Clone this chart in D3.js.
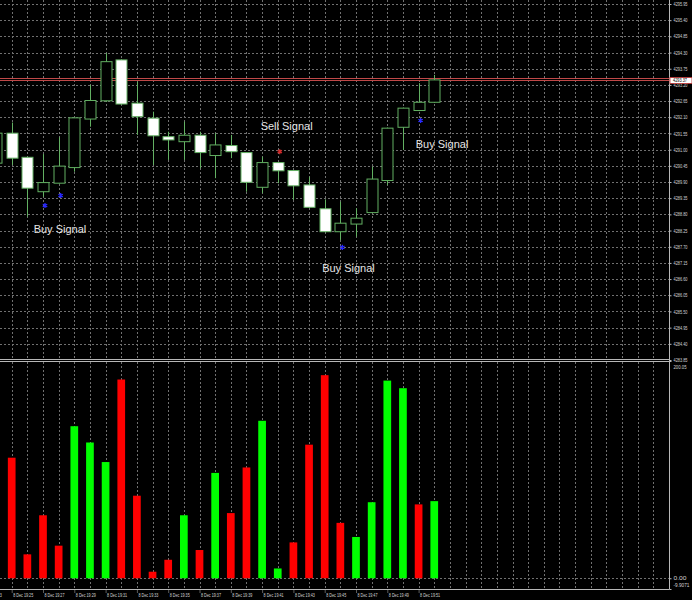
<!DOCTYPE html>
<html><head><meta charset="utf-8">
<script src="https://cdn.jsdelivr.net/npm/d3@7"></script>
<style>body{margin:0;background:#000}svg{display:block}</style>
</head><body>
<svg id="c" width="692" height="600"></svg>
<script>
// ---------------- DATA ----------------
const times = ["19:24","19:25","19:26","19:27","19:28","19:29","19:30","19:31","19:32","19:33",
  "19:34","19:35","19:36","19:37","19:38","19:39","19:40","19:41","19:42","19:43",
  "19:44","19:45","19:46","19:47","19:48","19:49","19:50","19:51","19:52"];
const open  = [4290.54,4291.56,4290.74,4289.57,4289.86,4290.39,4292.04,4292.66,4294.05,4292.58,
  4292.07,4291.44,4291.27,4291.49,4290.80,4291.14,4290.90,4289.72,4290.56,4290.29,
  4289.80,4288.99,4288.21,4288.47,4288.86,4289.95,4291.76,4292.33,4292.61];
const high  = [4291.70,4291.92,4290.76,4290.85,4291.42,4292.08,4293.20,4294.28,4294.07,4293.31,
  4292.29,4291.61,4291.95,4291.61,4291.56,4291.50,4290.92,4290.76,4290.58,4290.31,
  4290.08,4289.31,4289.23,4289.01,4290.42,4291.75,4292.43,4293.26,4293.54];
const low   = [4290.40,4290.48,4288.72,4289.40,4289.85,4290.25,4291.78,4292.62,4292.52,4291.50,
  4290.48,4290.65,4290.65,4290.37,4290.03,4290.71,4289.57,4289.52,4289.86,4289.29,
  4289.02,4288.19,4287.93,4288.04,4288.84,4289.80,4290.99,4292.31,4292.59];
const close = [4291.56,4290.71,4289.69,4289.88,4290.44,4292.08,4292.67,4293.99,4292.55,4292.12,
  4291.47,4291.33,4291.49,4290.90,4291.16,4290.93,4289.89,4290.56,4290.28,4289.77,
  4289.04,4288.21,4288.50,4288.67,4290.00,4291.73,4292.41,4292.61,4293.37];
const volume = [null,111,22,58,30,140,125,107,183,76,
  6,17,58,26,97,60,102,145,9,33,
  123,187,51,38,70,182,175,68,71];
const volumeDir = ["","down","down","down","down","up","up","up","down","down",
  "down","down","up","down","up","down","down","up","up","down",
  "down","down","down","up","up","up","up","down","up"];

const priceTicks = [4283.85,4284.40,4284.95,4285.50,4286.05,4286.60,4287.15,4287.70,4288.25,4288.80,
  4289.35,4289.90,4290.45,4291.00,4291.55,4292.10,4292.65,4293.20,4293.75,4294.30,4294.85,4295.40,4295.95];
const timeTicks = ["19:23","19:25","19:27","19:29","19:31","19:33","19:35","19:37","19:39",
  "19:41","19:43","19:45","19:47","19:49","19:51"];
const volumeTicks = [200.05, 0, -9.9071];
const volumeTickLabels = ["200.05","0.00","-9.9071"];

const buySignalTimes  = ["19:27","19:28","19:46","19:51"];
const buySignalPrices = [4289.10,4289.44,4287.68,4291.99];
const sellSignalTimes  = ["19:42"];
const sellSignalPrices = [4290.93];

const labelTexts  = ["Buy Signal","Sell Signal","Buy Signal","Buy Signal"];
const labelTimes  = ["19:28:05","19:42:34","19:46:31","19:52:30"];
const labelPrices = [4288.17,4291.68,4286.84,4291.06];

const bidPrice = 4293.37;
const askPrice = 4293.45;

// ---------------- CHART ----------------
const svg = d3.select("#c");
const W = 692, H = 600, axisX = 669, mainBottom = 359, subTop = 361, subBottom = 589;
const parse = d3.timeParse("%H:%M:%S");
const t = s => parse(s.length === 5 ? s + ":00" : s);

const x = d3.scaleTime().domain([t("19:24"), t("19:52")]).range([-3.95, 434.25]);
const y = d3.scaleLinear().domain([4283.85, 4295.95]).range([360, 4]);
const yv = d3.scaleLinear().domain([-9.9071, 200.05]).range([subBottom, subTop]);

svg.append("rect").attr("width", W).attr("height", H).attr("fill", "#000");

const gridColor = "#707070";
const gridTimes = d3.timeMinute.range(t("19:24"), t("20:08"));
const gv = svg.append("g").attr("stroke", gridColor).attr("stroke-dasharray", "2,2");
gridTimes.forEach(d => {
  const xx = Math.round(x(d)) + 0.5;
  if (xx > 0 && xx < axisX) {
    gv.append("line").attr("x1", xx).attr("x2", xx).attr("y1", 0).attr("y2", mainBottom);
    gv.append("line").attr("x1", xx).attr("x2", xx).attr("y1", subTop + 1).attr("y2", subBottom);
  }
});
priceTicks.forEach(p => {
  const yy = Math.round(y(p)) + 0.5;
  if (yy < mainBottom) gv.append("line").attr("x1", 0).attr("x2", axisX).attr("y1", yy).attr("y2", yy);
});
gv.append("line").attr("x1", 0).attr("x2", axisX)
  .attr("y1", Math.round(yv(0)) + 0.5).attr("y2", Math.round(yv(0)) + 0.5);

// bid / ask lines
[askPrice, bidPrice].forEach(p => {
  const yy = Math.round(y(p)) + 0.5;
  svg.append("line").attr("x1", 0).attr("x2", axisX).attr("y1", yy).attr("y2", yy)
    .attr("stroke", "#c04848").attr("stroke-width", 1);
});

// candles
svg.append("clipPath").attr("id", "mainClip").append("rect")
  .attr("x", 0).attr("y", 0).attr("width", axisX).attr("height", mainBottom);
const gc = svg.append("g").attr("clip-path", "url(#mainClip)");
const candleStroke = "#62b062";
const bodyW = 11;
times.forEach((tm, i) => {
  const cx = Math.round(x(t(tm))) + 0.5;
  gc.append("line").attr("x1", cx).attr("x2", cx)
    .attr("y1", y(high[i])).attr("y2", y(low[i]))
    .attr("stroke", candleStroke).attr("stroke-width", 1);
  const top = y(Math.max(open[i], close[i]));
  const bot = y(Math.min(open[i], close[i]));
  gc.append("rect").attr("x", cx - bodyW / 2).attr("y", top)
    .attr("width", bodyW).attr("height", Math.max(1, bot - top))
    .attr("fill", close[i] < open[i] ? "#ffffff" : "#000000")
    .attr("stroke", candleStroke).attr("stroke-width", 1);
});

// signals
const star = d3.symbol().type(d3.symbolAsterisk).size(18);
buySignalTimes.forEach((tm, i) => {
  gc.append("path").attr("d", star)
    .attr("transform", `translate(${x(t(tm)) + 2},${y(buySignalPrices[i])})`)
    .attr("fill", "none").attr("stroke", "#2828ff").attr("stroke-width", 1.3);
});
sellSignalTimes.forEach((tm, i) => {
  gc.append("path").attr("d", star)
    .attr("transform", `translate(${x(t(tm)) + 2},${y(sellSignalPrices[i])})`)
    .attr("fill", "none").attr("stroke", "#d42a2a").attr("stroke-width", 1.3);
});

// text labels
labelTexts.forEach((txt, i) => {
  svg.append("text").attr("x", x(t(labelTimes[i]))).attr("y", y(labelPrices[i]))
    .attr("text-anchor", "middle").attr("fill", "#e6e6e6")
    .attr("font-family", "Liberation Sans, Arial, sans-serif").attr("font-size", 11)
    .text(txt);
});

// volume bars
const barW = 7.7;
times.forEach((tm, i) => {
  if (volume[i] == null) return;
  const cx = x(t(tm));
  svg.append("rect").attr("x", cx - barW / 2).attr("y", yv(volume[i]))
    .attr("width", barW).attr("height", yv(0) - yv(volume[i]))
    .attr("fill", volumeDir[i] === "up" ? "#00ff00" : "#ff0000");
});

// panel borders
const borderColor = "#b8b8b8";
svg.append("line").attr("x1", 0).attr("x2", axisX).attr("y1", 359.5).attr("y2", 359.5).attr("stroke", borderColor);
svg.append("line").attr("x1", 0).attr("x2", axisX).attr("y1", 361.5).attr("y2", 361.5).attr("stroke", borderColor);
svg.append("line").attr("x1", 0).attr("x2", axisX + 0.5).attr("y1", subBottom + 0.5).attr("y2", subBottom + 0.5).attr("stroke", borderColor);
svg.append("line").attr("x1", axisX + 0.5).attr("x2", axisX + 0.5).attr("y1", 0).attr("y2", subBottom + 0.5).attr("stroke", borderColor);

const axisFont = "Liberation Sans, Arial, sans-serif";
const axisText = "#d4d4d4";

// price axis
const pa = svg.append("g").attr("transform", `translate(${axisX + 0.5},0)`)
  .call(d3.axisRight(y).tickValues(priceTicks).tickFormat(d3.format(".2f")).tickSize(2).tickPadding(2));
pa.select(".domain").remove();
pa.selectAll(".tick line").attr("stroke", borderColor);
pa.selectAll(".tick text").attr("fill", axisText).attr("font-family", axisFont).attr("font-size", 4.8)
  .attr("textLength", 14).attr("lengthAdjust", "spacingAndGlyphs");

// volume axis
const va = svg.append("g").attr("transform", `translate(${axisX + 0.5},0)`)
  .call(d3.axisRight(yv).tickValues(volumeTicks).tickFormat((d, i) => volumeTickLabels[i]).tickSize(2).tickPadding(2));
va.select(".domain").remove();
va.selectAll(".tick line").attr("stroke", borderColor);
va.selectAll(".tick text").attr("fill", axisText).attr("font-family", axisFont).attr("font-size", 4.8)
  .attr("textLength", (d, i) => i === 2 ? 16 : 13).attr("lengthAdjust", "spacingAndGlyphs")
  .attr("dy", (d, i) => i === 0 ? "1.5em" : (i === 2 ? "-0.5em" : "0.32em"));

// bid label box
const bidY = Math.round(y(bidPrice)) + 0.5;
svg.append("rect").attr("x", axisX + 1).attr("y", bidY - 3).attr("width", 22).attr("height", 6)
  .attr("fill", "#ffffff").attr("stroke", "#c03030").attr("stroke-width", 0.8);
svg.append("text").attr("x", axisX + 4).attr("y", bidY + 1.8)
  .attr("fill", "#000").attr("font-family", axisFont).attr("font-size", 4.8)
  .attr("textLength", 14).attr("lengthAdjust", "spacingAndGlyphs")
  .text(d3.format(".2f")(bidPrice));

// time axis
const ta = svg.append("g").attr("transform", `translate(0,${subBottom + 0.5})`)
  .call(d3.axisBottom(x).tickValues(timeTicks.map(t)).tickFormat(d3.timeFormat("8 Dec %H:%M")).tickSize(3).tickPadding(1));
ta.select(".domain").remove();
ta.selectAll(".tick line").attr("stroke", borderColor).attr("stroke-dasharray", "1,1");
ta.selectAll(".tick text").attr("fill", axisText).attr("font-family", axisFont).attr("font-size", 4.8)
  .attr("text-anchor", "start").attr("x", 1)
  .attr("textLength", 20).attr("lengthAdjust", "spacingAndGlyphs");
</script>
</body></html>
